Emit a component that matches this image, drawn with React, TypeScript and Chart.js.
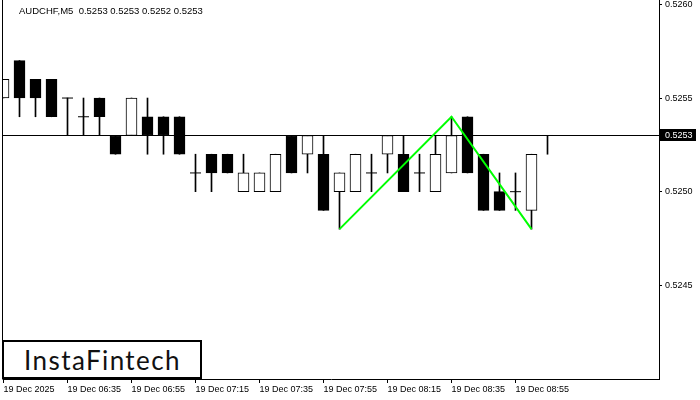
import React, { useEffect, useRef } from "react";
import { Chart, registerables } from "chart.js";

Chart.register(...registerables);

const titleText = "AUDCHF,M5  0.5253 0.5253 0.5252 0.5253";

const opens = [0.5255, 0.5257, 0.5256, 0.5256, 0.5255, 0.5254, 0.5255, 0.5253, 0.5253, 0.5254, 0.5254, 0.5254, 0.5251, 0.5252, 0.5252, 0.525, 0.525, 0.525, 0.5253, 0.5252, 0.5252, 0.525, 0.525, 0.5251, 0.5252, 0.5252, 0.5251, 0.525, 0.5251, 0.5254, 0.5252, 0.525, 0.525, 0.5249, 0.5253];
const highs = [0.5256, 0.5257, 0.5256, 0.5256, 0.5255, 0.5255, 0.5255, 0.5253, 0.5255, 0.5255, 0.5254, 0.5254, 0.5252, 0.5252, 0.5252, 0.5252, 0.5251, 0.5252, 0.5253, 0.5253, 0.5253, 0.5251, 0.5252, 0.5252, 0.5253, 0.5253, 0.5252, 0.5253, 0.5254, 0.5254, 0.5252, 0.5251, 0.5251, 0.5252, 0.5253];
const lows = [0.5255, 0.5254, 0.5254, 0.5254, 0.5253, 0.5253, 0.5253, 0.5252, 0.5253, 0.5252, 0.5252, 0.5252, 0.525, 0.525, 0.5251, 0.525, 0.525, 0.525, 0.5251, 0.5251, 0.5249, 0.5248, 0.525, 0.525, 0.5251, 0.525, 0.525, 0.525, 0.5251, 0.5251, 0.5249, 0.5249, 0.5249, 0.5248, 0.5252];
const closes = [0.5256, 0.5255, 0.5255, 0.5254, 0.5255, 0.5254, 0.5254, 0.5252, 0.5255, 0.5253, 0.5253, 0.5252, 0.5251, 0.5251, 0.5251, 0.5251, 0.5251, 0.5252, 0.5251, 0.5253, 0.5249, 0.5251, 0.5252, 0.5251, 0.5253, 0.525, 0.5251, 0.5252, 0.5253, 0.5251, 0.5249, 0.5249, 0.525, 0.5252, 0.5253];

const timeTickIdx = [0, 4, 8, 12, 16, 20, 24, 28, 32];
const timeTickLabels = ["19 Dec 2025", "19 Dec 06:35", "19 Dec 06:55", "19 Dec 07:15", "19 Dec 07:35", "19 Dec 07:55", "19 Dec 08:15", "19 Dec 08:35", "19 Dec 08:55"];
const priceTicks = [0.5245, 0.525, 0.5255, 0.526];

const patternIdx = [21, 28, 33];
const patternPrice = [0.5248, 0.5254, 0.5248];

const currentPrice = 0.5253;

// axis ranges (layout)
const X_MIN = -0.03125;
const X_MAX = X_MIN + 41;
const Y_MAX = 0.5260234;
const Y_MIN = Y_MAX - 379 / 187300;

const FONT = { family: "'Liberation Sans', Arial, sans-serif", size: 9 };

const zeroPad = (s: any) => {
  s.paddingTop = 0;
  s.paddingBottom = 0;
  s.paddingLeft = 0;
  s.paddingRight = 0;
};

export default function App() {
  const ref = useRef<HTMLCanvasElement | null>(null);

  useEffect(() => {
    const canvas = ref.current;
    if (!canvas) return;

    const bodyData: any[] = [];
    const bodyColors: string[] = [];
    const dojiData: any[] = [];
    const wickData: any[] = [];
    opens.forEach((o, i) => {
      const c = closes[i];
      wickData.push({ x: i, y: [lows[i], highs[i]] });
      if (Math.abs(o - c) < 1e-9) {
        dojiData.push({ x: i, y: o });
      } else {
        bodyData.push({ x: i, y: [o, c] });
        bodyColors.push(c > o ? "#ffffff" : "#000000");
      }
    });

    const framePlugin = {
      id: "frame",
      beforeDatasetsDraw(chart: any) {
        const { ctx, chartArea, scales } = chart;
        const y = Math.floor(scales.y.getPixelForValue(currentPrice)) + 0.5;
        ctx.save();
        ctx.strokeStyle = "#000";
        ctx.lineWidth = 1;
        ctx.beginPath();
        ctx.moveTo(chartArea.left, y);
        ctx.lineTo(chartArea.right, y);
        ctx.stroke();
        ctx.restore();
      },
      afterDraw(chart: any) {
        const { ctx, chartArea, scales } = chart;
        ctx.save();
        ctx.strokeStyle = "#000";
        ctx.lineWidth = 1;
        ctx.beginPath();
        ctx.moveTo(chartArea.left - 0.5, chartArea.top);
        ctx.lineTo(chartArea.left - 0.5, chartArea.bottom + 0.5);
        ctx.stroke();
        // title
        ctx.fillStyle = "#000";
        ctx.font = "9.5px 'Liberation Sans', Arial, sans-serif";
        ctx.textBaseline = "middle";
        ctx.textAlign = "left";
        ctx.fillText(titleText, 19, 11);
        // current price label
        const y = Math.floor(scales.y.getPixelForValue(currentPrice));
        ctx.font = "9px 'Liberation Sans', Arial, sans-serif";
        ctx.fillStyle = "#000";
        ctx.fillRect(chartArea.right + 1, y - 6, 36, 12);
        ctx.fillStyle = "#fff";
        ctx.fillText(currentPrice.toFixed(4), chartArea.right + 6, y + 0.5);
        ctx.restore();
      },
    };

    const chart = new Chart(canvas, {
      type: "bar",
      data: {
        datasets: [
          {
            type: "line",
            data: patternIdx.map((x, i) => ({ x, y: patternPrice[i] })),
            borderColor: "#00ff00",
            borderWidth: 2,
            pointRadius: 0,
            tension: 0,
            order: 0,
          } as any,
          {
            type: "line",
            data: dojiData,
            showLine: false,
            pointStyle: "line",
            pointRadius: 5.5,
            pointBorderWidth: 1,
            borderColor: "#000",
            backgroundColor: "#000",
            order: 1,
          } as any,
          {
            type: "bar",
            data: bodyData,
            backgroundColor: bodyColors,
            borderColor: "#000",
            borderWidth: 1,
            borderSkipped: false,
            barThickness: 11,
            grouped: false,
            order: 2,
          } as any,
          {
            type: "bar",
            data: wickData,
            backgroundColor: "#000",
            borderWidth: 0,
            barThickness: 1,
            grouped: false,
            order: 3,
          } as any,
        ],
      },
      options: {
        responsive: false,
        maintainAspectRatio: false,
        animation: false,
        devicePixelRatio: 1,
        events: [],
        layout: { autoPadding: false, padding: { left: 3, top: 0, right: 0, bottom: 0 } },
        plugins: { legend: { display: false }, tooltip: { enabled: false }, title: { display: false } },
        scales: {
          x: {
            type: "linear",
            min: X_MIN,
            max: X_MAX,
            offset: false,
            grid: { display: true, drawOnChartArea: false, drawTicks: true, tickLength: 4, color: "#000", offset: false },
            border: { display: true, color: "#000" },
            ticks: {
              align: "start",
              autoSkip: false,
              maxRotation: 0,
              minRotation: 0,
              padding: 1,
              color: "#000",
              font: FONT,
              callback: (v: any) => {
                const k = timeTickIdx.indexOf(Number(v));
                return k >= 0 ? timeTickLabels[k] : "";
              },
            },
            afterBuildTicks: (s: any) => {
              s.ticks = timeTickIdx.map((v) => ({ value: v }));
            },
            afterFit: (s: any) => {
              s.height = 21;
              zeroPad(s);
            },
          },
          y: {
            type: "linear",
            position: "right",
            min: Y_MIN,
            max: Y_MAX,
            grid: { display: true, drawOnChartArea: false, drawTicks: true, tickLength: 3, color: "#000" },
            border: { display: true, color: "#000" },
            ticks: {
              padding: 3,
              color: "#000",
              font: FONT,
              callback: (v: any) => Number(v).toFixed(4),
            },
            afterBuildTicks: (s: any) => {
              s.ticks = priceTicks.map((v) => ({ value: v }));
            },
            afterFit: (s: any) => {
              s.width = 41;
              zeroPad(s);
            },
          },
        },
      } as any,
      plugins: [framePlugin],
    });

    return () => chart.destroy();
  }, []);

  return (
    <div style={{ position: "fixed", left: 0, top: 0, width: 700, height: 400, background: "#fff" }}>
      <canvas ref={ref} width={700} height={400} style={{ width: 700, height: 400, display: "block" }} />
      <div
        style={{
          position: "absolute",
          left: 2,
          top: 340,
          width: 200,
          height: 39,
          boxSizing: "border-box",
          border: "2px solid #000",
          background: "#fff",
          display: "flex",
          alignItems: "center",
          justifyContent: "center",
          fontFamily: "Lato, 'Open Sans', sans-serif",
          fontSize: 26,
          color: "#111",
          letterSpacing: 1.4,
          paddingLeft: 1,
        }}
      >
        InstaFintech
      </div>
    </div>
  );
}
